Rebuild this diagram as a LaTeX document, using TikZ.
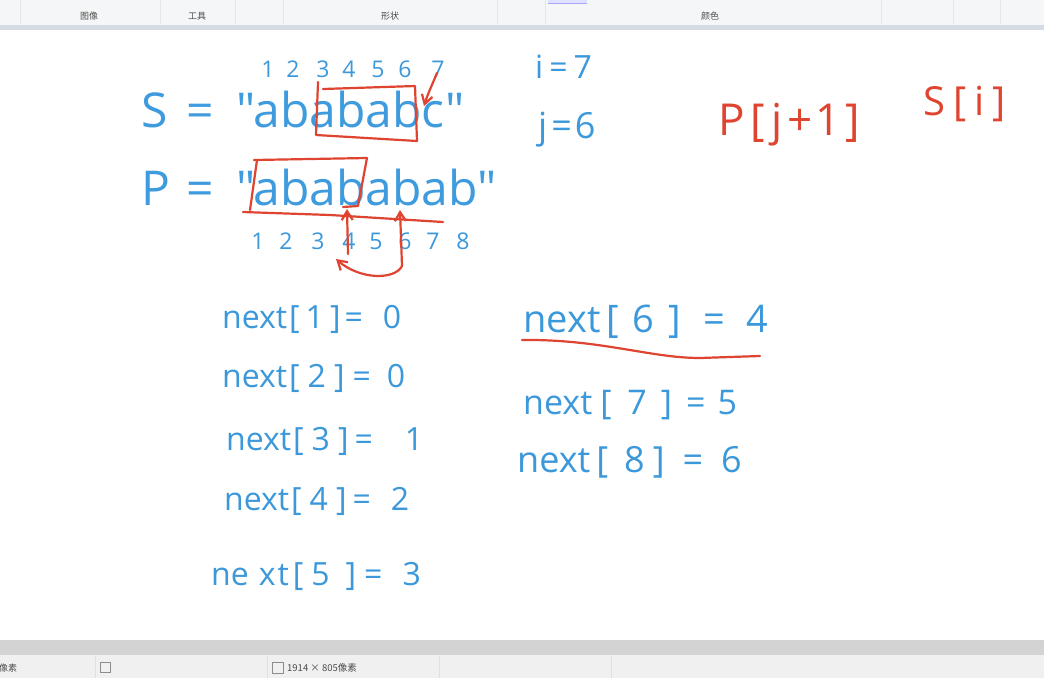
\documentclass[tikz,border=0pt]{standalone}
\usepackage{fontspec}
\setmainfont{Open Sans}
\newfontfamily\plainfont{Open Sans}
\newfontfamily\cjk{Noto Sans CJK SC}
\usetikzlibrary{arrows.meta}
\definecolor{txtblue}{RGB}{62,155,221}
\definecolor{penblue}{RGB}{59,152,218}
\definecolor{penred}{RGB}{222,68,48}
\definecolor{barbg}{RGB}{245,246,247}
\definecolor{barline}{RGB}{214,220,228}
\definecolor{sepc}{RGB}{228,230,233}
\definecolor{grayband}{RGB}{211,211,211}
\definecolor{statusbg}{RGB}{240,240,240}
\newcommand{\gp}[1]{\hspace{#1pt}}
\tikzset{
  big/.style={inner sep=0pt, text=txtblue, font=\plainfont\fontsize{48}{48}\selectfont},
  hw/.style={inner sep=0pt, text=penblue, font=\fontsize{32}{32}\selectfont},
  hwsmall/.style={inner sep=0pt, text=penblue, font=\fontsize{23}{23}\selectfont},
  hwred/.style={inner sep=0pt, text=penred, font=\fontsize{44}{44}\selectfont},
  redpen/.style={draw=penred, line width=2.2pt, line cap=round, line join=round},
  redarrow/.style={redpen, -{Straight Barb[length=9pt,width=11pt,line width=2.2pt]}},
  tab/.style={inner sep=0pt, text=black!70, font=\cjk\fontsize{9}{9}\selectfont},
  sep/.style={draw=sepc, line width=0.8pt}
}
\begin{document}
\begin{tikzpicture}[x=1pt,y=-1pt]
\useasboundingbox (0,0) rectangle (1044,678);
% canvas
\fill[white] (0,0) rectangle (1044,678);
% top toolbar
\fill[barbg] (0,0) rectangle (1044,25);
\fill[barline] (0,25) rectangle (1044,30);
\foreach \x in {20,160,235,283,497,545,881,953,1000} \draw[sep] (\x,0) -- (\x,24);
\fill[blue!12] (548,0) rectangle (587,3.5);
\draw[blue!35] (548,3.5) -- (587,3.5);
\node[tab] (t1) at (89,16) {图像};
\node[tab] (t2) at (197,16) {工具};
\node[tab] (t3) at (390,16) {形状};
\node[tab] (t4) at (710,16) {颜色};
% bottom bars
\fill[grayband] (0,640) rectangle (1044,655);
\fill[statusbg] (0,655) rectangle (1044,678);
\foreach \x in {95,267,439,611} \draw[sep, draw=black!12] (\x,656) -- (\x,678);
\node[tab, anchor=west] (s1) at (-1,668) {像素};
\draw[black!45, line width=0.6pt] (100.5,662.5) rectangle (110.5,672.5);
\draw[black!45, line width=0.6pt] (272.5,662.5) rectangle (283.5,673.5);
\node[tab, anchor=west, font=\cjk\fontsize{9.5}{9.5}\selectfont] (s2) at (287,668) {1914 × 805像素};
% main strings
\node[big, anchor=base west] (S) at (141,127) {S};
\node[big, anchor=base] (eqS) at (200,127) {=};
\node[big, anchor=base west] (Sstr) at (236,127) {"abababc"};
\node[big, anchor=base west] (P) at (141,205) {P};
\node[big, anchor=base] (eqP) at (200,205) {=};
\node[big, anchor=base west] (Pstr) at (236,205) {"abababab"};
% index numbers
\foreach \n/\x in {1/268,2/293,3/323,4/349,5/378,6/405,7/438}
  \node[hwsmall] (si\n) at (\x,69) {\n};
\foreach \n/\x in {1/258,2/286,3/318,4/349,5/376,6/405,7/433,8/463}
  \node[hwsmall] (pi\n) at (\x,241) {\n};
% i, j
\node[hw, anchor=west] (ival) at (535,67) {i\gp{6}=\gp{6}7};
\node[hw, anchor=west, font=\fontsize{36}{36}\selectfont] (jval) at (538,130) {j\gp{4}=\gp{3}6};
% red text
\node[hwred, anchor=west] (pj) at (718,125) {P\gp{6}[\gp{6}j\gp{5}+\gp{3}1\gp{5}]};
\node[hwred, anchor=west, font=\fontsize{40}{40}\selectfont] (si) at (923,104) {S\gp{8}[\gp{8}i\gp{8}]};
% next values left
\node[hw, anchor=west] (n1) at (222,319) {next\gp{2}[\gp{6}1\gp{6}]\gp{4}=\gp{20}0};
\node[hw, anchor=west] (n2) at (222,378) {next\gp{2}[\gp{8}2\gp{8}]\gp{8}=\gp{16}0};
\node[hw, anchor=west] (n3) at (226,441) {next\gp{2}[\gp{8}3\gp{8}]\gp{6}=\gp{32}1};
\node[hw, anchor=west] (n4) at (224,501) {next\gp{2}[\gp{8}4\gp{8}]\gp{6}=\gp{20}2};
\node[hw, anchor=west] (n5) at (211,576) {ne\gp{10}x\gp{2}t\gp{4}[\gp{8}5\gp{16}]\gp{8}=\gp{20}3};
% next values right
\node[hw, anchor=west, font=\fontsize{38}{38}\selectfont] (n6) at (523,322) {next\gp{6}[\gp{14}6\gp{14}]\gp{22}=\gp{22}4};
\node[hw, anchor=west, font=\fontsize{34}{34}\selectfont] (n7) at (523,405) {next\gp{8}[\gp{16}7\gp{14}]\gp{14}=\gp{12}5};
\node[hw, anchor=west, font=\fontsize{36}{36}\selectfont] (n8) at (517,462) {next\gp{6}[\gp{16}8\gp{8}]\gp{18}=\gp{18}6};
% red underline under next[6]
\coordinate (u1) at (522,340);
\coordinate (u2) at (760,356);
\draw[redpen] (u1) .. controls (600,339) and (650,358) .. (700,358) -- (u2);
% red box in S
\coordinate (sb1) at (318,82);
\draw[redpen] (323,89) -- (415,86) -- (417,141) -- (316,135) -- (sb1);
% red arrow at 7
\coordinate (a7s) at (437,73);
\coordinate (a7e) at (424,106);
\draw[redarrow] (a7s) .. controls (432,85) and (427,96) .. (a7e);
% red box in P
\draw[redpen] (254,160) -- (367,158) -- (358,206) -- (343,207);
\draw[redpen] (257,160) -- (250,210);
\coordinate (ul1) at (243,212);
\coordinate (ul2) at (443,222);
\draw[redpen] (ul1) -- (330,215) -- (ul2);
% vertical arrows
\coordinate (v1b) at (348,254);
\coordinate (v1t) at (347,209);
\coordinate (v2b) at (402,266);
\coordinate (v2t) at (400,210);
\draw[redarrow] (v1b) -- (v1t);
\draw[redarrow] (v2b) -- (v2t);
% curved back arrow
\coordinate (cb) at (336,259);
\draw[redarrow] (v2b) .. controls (395,280) and (360,280) .. (cb);
\end{tikzpicture}
\end{document}
